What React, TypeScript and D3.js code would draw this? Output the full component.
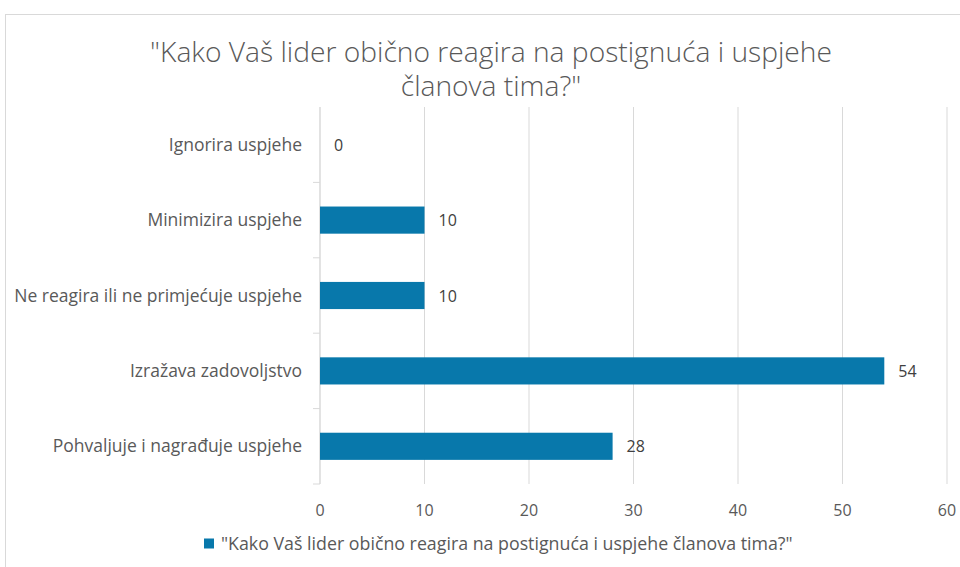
import React from "react";
import * as d3 from "d3";

const categories = [
  "Ignorira uspjehe",
  "Minimizira uspjehe",
  "Ne reagira ili ne primjećuje uspjehe",
  "Izražava zadovoljstvo",
  "Pohvaljuje i nagrađuje uspjehe",
];
const values = [0, 10, 10, 54, 28];
const xTicks = [0, 10, 20, 30, 40, 50, 60];
const titleLines = ['"Kako Vaš lider obično reagira na postignuća i uspjehe', 'članova tima?"'];
const legendLabel = '"Kako Vaš lider obično reagira na postignuća i uspjehe članova tima?"';

const W = 960;
const H = 567;
const FONT = "'Open Sans', Lato, sans-serif";
const BAR = "#0878ab";

export default function App() {
  const left = 320;
  const right = 947;
  const top = 107;
  const bottom = 484;
  const x = d3.scaleLinear().domain([0, 60]).range([left, right]);
  const y = d3.scaleBand<string>().domain(categories).range([top, bottom]).paddingInner(0.64).paddingOuter(0.32);
  const yb = d3.scaleBand<string>().domain(categories).range([top, bottom]);

  return (
    <svg width={W} height={H} style={{ position: "absolute", left: 0, top: 0 }} fontFamily={FONT}>
      <rect x={0} y={0} width={W} height={H} fill="#fff" />
      <rect x={5.5} y={14.5} width={W + 10} height={H + 10} fill="#fff" stroke="#d9d9d9" />
      <text x={491} y={62} textAnchor="middle" fontSize={28.2} fill="#595959" fontWeight={300}>
        {titleLines.map((t, i) => (
          <tspan key={i} x={491} dy={i === 0 ? 0 : 34}>
            {t}
          </tspan>
        ))}
      </text>
      {xTicks.map((t) => (
        <g key={t}>
          <line x1={x(t)} x2={x(t)} y1={top} y2={bottom} stroke="#d9d9d9" strokeWidth={1} />
          <text x={x(t)} y={516} textAnchor="middle" fontSize={16} fill="#595959">
            {t}
          </text>
        </g>
      ))}
      <line x1={left} x2={left} y1={top} y2={bottom} stroke="#d9d9d9" />
      {categories.map((c) => (
        <line key={c} x1={left - 7} x2={left} y1={(yb(c) ?? 0) + yb.bandwidth()} y2={(yb(c) ?? 0) + yb.bandwidth()} stroke="#d9d9d9" />
      ))}
      {categories.map((c, i) => {
        const cy = (yb(c) ?? 0) + yb.bandwidth() / 2;
        return (
          <g key={c}>
            <text x={left - 18} y={cy + 6} textAnchor="end" fontSize={17.5} fill="#595959">
              {c}
            </text>
            {values[i] > 0 && (
              <rect x={x(0)} y={y(c)} width={x(values[i]) - x(0)} height={y.bandwidth()} fill={BAR} />
            )}
            <text x={x(values[i]) + 14} y={cy + 6} fontSize={16} fill="#404040">
              {values[i]}
            </text>
          </g>
        );
      })}
      <rect x={204} y={538.5} width={10} height={10} fill={BAR} />
      <text x={221} y={550} fontSize={17.8} fill="#595959">
        {legendLabel}
      </text>
    </svg>
  );
}
